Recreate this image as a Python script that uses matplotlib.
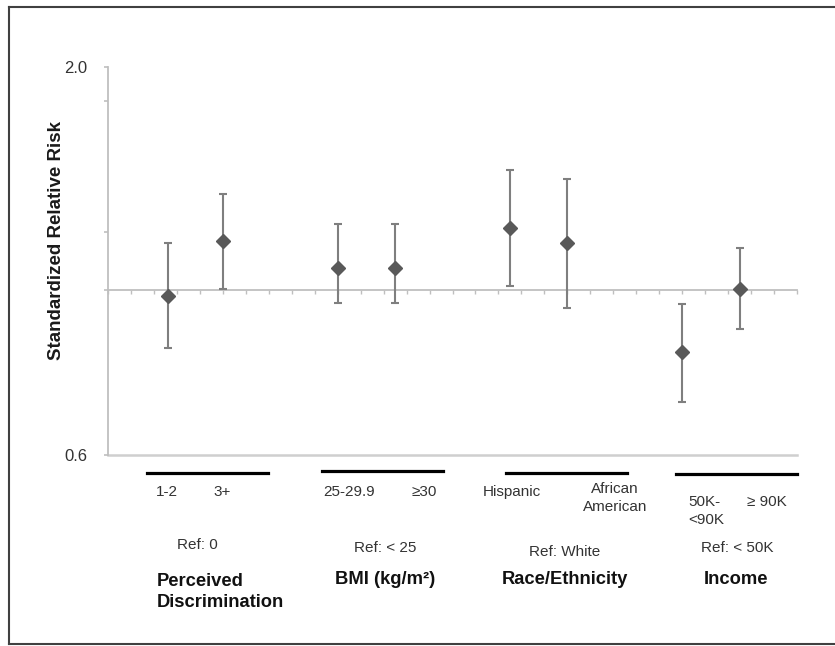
import matplotlib
matplotlib.use("Agg")
import matplotlib.pyplot as plt
from matplotlib.ticker import FixedLocator, NullFormatter, FixedFormatter
from matplotlib.lines import Line2D

plt.rcParams['font.family'] = ['Liberation Sans', 'DejaVu Sans']

# data (log scale, reference = 1.0)
x_pos = [2.6, 5, 10, 12.5, 17.5, 20, 25, 27.5]
risk = [0.983, 1.166, 1.071, 1.071, 1.213, 1.157, 0.825, 1.004]
ci_low = [0.836, 1.004, 0.961, 0.962, 1.015, 0.946, 0.707, 0.887]
ci_high = [1.157, 1.350, 1.230, 1.229, 1.453, 1.413, 0.960, 1.140]

level_labels = ["1-2", "3+", "25-29.9", "≥30", "Hispanic", "African\nAmerican", "50K-\n<90K", "≥ 90K"]
ref_labels = ["Ref: 0", "Ref: < 25", "Ref: White", "Ref: < 50K"]
group_titles = ["Perceived\nDiscrimination", "BMI (kg/m²)", "Race/Ethnicity", "Income"]

W, H = 835, 646


def fx(px):
    return px / W


def fy(py):
    return 1 - py / H


fig = plt.figure(figsize=(W / 100, H / 100), dpi=100)
ax = fig.add_axes([fx(108), fy(455), fx(797) - fx(108), fy(67) - fy(455)])

err_lo = [r - lo for r, lo in zip(risk, ci_low)]
err_hi = [hi - r for r, hi in zip(risk, ci_high)]
ax.errorbar(x_pos, risk, yerr=[err_lo, err_hi], fmt='none', ecolor='#7f7f7f',
            elinewidth=1.5, capsize=3, capthick=1.5, zorder=3)
ax.plot(x_pos, risk, 'D', color='#595959', markersize=6.8, zorder=4)

ax.set_yscale('log')
ax.set_ylim(0.6, 2.0)
ax.set_xlim(0, 30)

ax.yaxis.set_major_locator(FixedLocator([0.6, 2.0]))
ax.yaxis.set_major_formatter(FixedFormatter(["0.6", "2.0"]))
ax.yaxis.set_minor_locator(FixedLocator([1.0, 1.2, 1.8]))
ax.yaxis.set_minor_formatter(NullFormatter())
ax.tick_params(axis='y', which='both', direction='out', length=3, width=1.2,
               color='#bfbfbf', labelsize=12, labelcolor='#333333', pad=12)

# x axis crosses at 1.0
ax.spines['bottom'].set_position(('data', 1.0))
ax.spines['bottom'].set_color('#bfbfbf')
ax.spines['bottom'].set_linewidth(1.3)
ax.spines['left'].set_color('#bfbfbf')
ax.spines['left'].set_linewidth(1.3)
ax.spines['top'].set_visible(False)
ax.spines['right'].set_visible(False)
ax.xaxis.set_major_locator(FixedLocator(list(range(0, 31))))
ax.tick_params(axis='x', direction='out', length=3, width=1, color='#bfbfbf',
               labelbottom=False)
ax.axhline(0.6, color='#cfcfcf', lw=1.8, clip_on=False, zorder=1)

ax.set_ylabel("Standardized Relative Risk", fontsize=13.5, fontweight='bold',
              color='#1a1a1a')
ax.yaxis.set_label_coords((65 - 108) / (797 - 108), (455 - 240) / (455 - 67))

# black group lines under the axis
group_lines = [(147, 268, 473), (322, 443, 471), (506, 627, 473), (676, 797, 474)]
for x0, x1, yy in group_lines:
    fig.add_artist(Line2D([fx(x0), fx(x1)], [fy(yy), fy(yy)], color='black', lw=2.3))

small = dict(fontsize=11, color='#333333')
# level labels (x, y, ha)
level_pos = [(167, 492, 'center'), (222, 492, 'center'), (349, 492, 'center'),
             (424, 492, 'center'), (512, 492, 'center'), (647, 498, 'right'),
             (688, 511, 'left'), (767, 502, 'center')]
for lab, (px, py, ha) in zip(level_labels, level_pos):
    fig.text(fx(px), fy(py), lab, ha=ha, va='center', linespacing=1.45,
             multialignment='center' if ha == 'right' else 'left', **small)

ref_pos = [(197, 545), (385, 548), (565, 552), (737, 548)]
for lab, (px, py) in zip(ref_labels, ref_pos):
    fig.text(fx(px), fy(py), lab, ha='center', va='center', **small)

title_pos = [(157, 592, 'left'), (385, 580, 'center'), (565, 580, 'center'), (736, 579, 'center')]
for lab, (px, py, ha) in zip(group_titles, title_pos):
    fig.text(fx(px), fy(py), lab, ha=ha, va='center', fontsize=13.2,
             fontweight='bold', color='#111111', linespacing=1.25)

# outer frame
frame = dict(color='#404040', lw=1.5)
fig.add_artist(Line2D([fx(9), fx(9)], [fy(7), fy(644)], **frame))
fig.add_artist(Line2D([fx(9), 1], [fy(7), fy(7)], **frame))
fig.add_artist(Line2D([fx(9), 1], [fy(644), fy(644)], **frame))

fig.savefig("out.png", dpi=100)
